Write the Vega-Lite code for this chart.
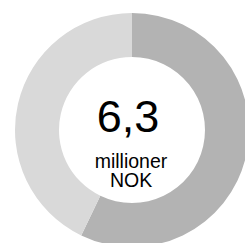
{
  "$schema": "https://vega.github.io/schema/vega-lite/v6.json",
  "autosize": "none",
  "padding": 0,
  "width": 264,
  "height": 260,
  "background": "white",
  "config": {"view": {"stroke": null}},
  "layer": [
    {
      "data": {"values": [
        {"segment": "A", "value": 3.6, "rank": 1},
        {"segment": "B", "value": 2.7, "rank": 2}
      ]},
      "mark": {"type": "arc", "outerRadius": 117, "innerRadius": 73, "stroke": null},
      "encoding": {
        "theta": {"field": "value", "type": "quantitative", "stack": true},
        "order": {"field": "rank", "type": "quantitative"},
        "color": {"field": "segment", "type": "nominal", "legend": null,
          "scale": {"domain": ["A", "B"], "range": ["#b3b3b3", "#d9d9d9"]}}
      }
    },
    {
      "data": {"values": [{"label": "6,3"}]},
      "mark": {"type": "text", "font": "Liberation Sans", "fontSize": 45, "color": "#000000", "align": "center", "baseline": "alphabetic", "dx": -4, "dy": 2},
      "encoding": {"text": {"field": "label"}}
    },
    {
      "data": {"values": [{"label": "millioner\nNOK"}]},
      "mark": {"type": "text", "font": "Liberation Sans", "fontSize": 19.5, "color": "#000000", "align": "center", "baseline": "alphabetic", "lineBreak": "\n", "lineHeight": 19, "dx": -1, "dy": 38},
      "encoding": {"text": {"field": "label"}}
    }
  ]
}
